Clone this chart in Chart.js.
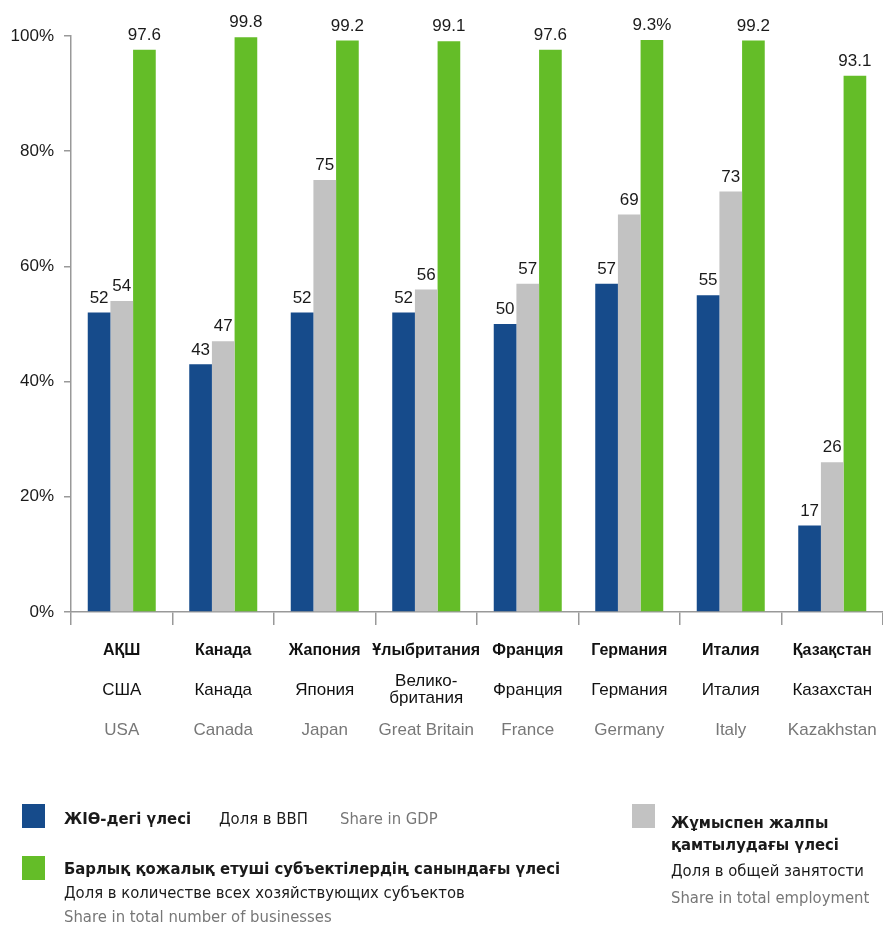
<!DOCTYPE html>
<html>
<head>
<meta charset="utf-8">
<script src="https://cdn.jsdelivr.net/npm/chart.js@4.4.1/dist/chart.umd.min.js"></script>
<style>
  body { margin: 0; background: #fff; }
  #wrap { position: relative; width: 883px; height: 928px; }
  .leg { position: absolute; font-family: 'Liberation Sans Narrow', 'DejaVu Sans Condensed', 'Liberation Sans', sans-serif; font-size: 16.5px; color: #1a1a1a; white-space: nowrap; }
  .sw { position: absolute; width: 23px; height: 24px; }
  .b { font-weight: bold; }
  .g { color: #777; }
</style>
</head>
<body>
<div id="wrap">
  <canvas id="myChart" width="883" height="928"></canvas>

  <div class="sw" style="left:22px;top:804px;background:#164b8b"></div>
  <div class="leg b" style="left:64px;top:809px">ЖІӨ-дегі үлесі</div>
  <div class="leg" style="left:219px;top:809px">Доля в ВВП</div>
  <div class="leg g" style="left:340px;top:809px">Share in GDP</div>

  <div class="sw" style="left:22px;top:856px;background:#64bd28"></div>
  <div class="leg b" style="left:64px;top:859px">Барлық қожалық етуші субъектілердің санындағы үлесі</div>
  <div class="leg" style="left:64px;top:883px">Доля в количестве всех хозяйствующих субъектов</div>
  <div class="leg g" style="left:64px;top:907px">Share in total number of businesses</div>

  <div class="sw" style="left:632px;top:804px;background:#c2c2c2"></div>
  <div class="leg b" style="left:671px;top:813px">Жұмыспен жалпы</div>
  <div class="leg b" style="left:671px;top:835px">қамтылудағы үлесі</div>
  <div class="leg" style="left:671px;top:861px">Доля в общей занятости</div>
  <div class="leg g" style="left:671px;top:888px">Share in total employment</div>
</div>
<script>
var categoriesKz = ['АҚШ', 'Канада', 'Жапония', 'Ұлыбритания', 'Франция', 'Германия', 'Италия', 'Қазақстан'];
var categoriesRu = [['США'], ['Канада'], ['Япония'], ['Велико-', 'британия'], ['Франция'], ['Германия'], ['Италия'], ['Казахстан']];
var categoriesEn = ['USA', 'Canada', 'Japan', 'Great Britain', 'France', 'Germany', 'Italy', 'Kazakhstan'];

var gdpShare = [52, 43, 52, 52, 50, 57, 55, 15];
var employmentShare = [54, 47, 75, 56, 57, 69, 73, 26];
var businessShare = [97.6, 99.8, 99.2, 99.1, 97.6, 99.3, 99.2, 93.1];

// labels as printed on the original (they don't always match the bars)
var gdpLabels = ['52', '43', '52', '52', '50', '57', '55', '17'];
var employmentLabels = ['54', '47', '75', '56', '57', '69', '73', '26'];
var businessLabels = ['97.6', '99.8', '99.2', '99.1', '97.6', '9.3%', '99.2', '93.1'];

var yTicks = [0, 20, 40, 60, 80, 100];

var FONT = "'Liberation Sans', Arial, sans-serif";

var barLabels = {
    id: 'barLabels',
    afterDatasetsDraw: function (chart) {
        var ctx = chart.ctx;
        ctx.save();
        ctx.font = '17px ' + FONT;
        ctx.fillStyle = '#1a1a1a';
        ctx.textAlign = 'center';
        ctx.textBaseline = 'bottom';
        chart.data.datasets.forEach(function (ds, di) {
            chart.getDatasetMeta(di).data.forEach(function (bar, i) {
                ctx.fillText(ds.valueLabels[i], bar.x, bar.y - 6);
            });
        });
        ctx.restore();
    }
};

var categoryLabels = {
    id: 'categoryLabels',
    afterDraw: function (chart) {
        var ctx = chart.ctx;
        var x = chart.scales.x;
        ctx.save();
        ctx.textAlign = 'center';
        ctx.textBaseline = 'middle';
        for (var i = 0; i < categoriesKz.length; i++) {
            var px = x.getPixelForValue(i);
            ctx.font = 'bold 16px ' + FONT;
            ctx.fillStyle = '#111';
            ctx.fillText(categoriesKz[i], px, 651);
            ctx.font = '17px ' + FONT;
            var ru = categoriesRu[i];
            if (ru.length == 1) {
                ctx.fillText(ru[0], px, 690);
            } else {
                ctx.fillText(ru[0], px, 681);
                ctx.fillText(ru[1], px, 698);
            }
            ctx.fillStyle = '#777';
            ctx.fillText(categoriesEn[i], px, 730);
        }
        ctx.restore();
    }
};

var ctx = document.getElementById('myChart').getContext('2d');
var myChart = new Chart(ctx, {
    type: 'bar',
    data: {
        labels: categoriesKz,
        datasets: [{
            label: 'ЖІӨ-дегі үлесі',
            data: gdpShare,
            valueLabels: gdpLabels,
            backgroundColor: '#164b8b'
        }, {
            label: 'Жұмыспен жалпы қамтылудағы үлесі',
            data: employmentShare,
            valueLabels: employmentLabels,
            backgroundColor: '#c2c2c2'
        }, {
            label: 'Барлық қожалық етуші субъектілердің санындағы үлесі',
            data: businessShare,
            valueLabels: businessLabels,
            backgroundColor: '#64bd28'
        }]
    },
    options: {
        responsive: false,
        animation: false,
        categoryPercentage: 0.67,
        barPercentage: 1.0,
        layout: {
            padding: { top: 36, left: 0, right: 0, bottom: 0 }
        },
        plugins: {
            legend: { display: false },
            tooltip: { enabled: false }
        },
        scales: {
            x: {
                afterFit: function (scale) { scale.height = 316; },
                ticks: { display: false },
                grid: { drawOnChartArea: false, tickLength: 13, color: '#999', lineWidth: 1.5 },
                border: { color: '#999', width: 1.5 }
            },
            y: {
                min: 0,
                max: 100,
                afterFit: function (scale) { scale.width = 71; },
                afterBuildTicks: function (scale) {
                    scale.ticks = yTicks.map(function (v) { return { value: v }; });
                },
                ticks: {
                    padding: 10,
                    color: '#1a1a1a',
                    font: { family: FONT, size: 17 },
                    callback: function (v) { return v + '%'; }
                },
                grid: { drawOnChartArea: false, tickLength: 7, color: '#999', lineWidth: 1.5 },
                border: { color: '#999', width: 1.5 }
            }
        }
    },
    plugins: [barLabels, categoryLabels]
});
</script>
</body>
</html>
